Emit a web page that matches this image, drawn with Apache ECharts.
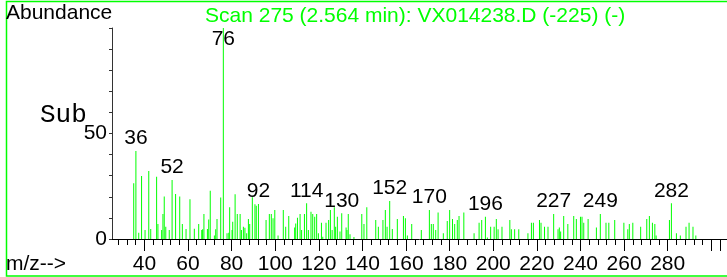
<!DOCTYPE html>
<html>
<head>
<meta charset="utf-8">
<script src="https://cdn.jsdelivr.net/npm/echarts@6/dist/echarts.min.js"></script>
<style>
  html, body { margin: 0; padding: 0; background: #fff; }
  #chart { width: 727px; height: 277px; }
</style>
</head>
<body>
<div id="chart"></div>
<script>
// m/z of each line
var mz = [
  35.1, 36.1, 37.4, 38.7, 40.3, 42.0, 42.9, 45.6, 46.2, 47.9, 48.5, 49.1, 49.8, 51.4, 52.7, 54.3, 56.2, 57.4, 59.1, 60.9, 62.9,
  64.9, 66.3, 66.7, 67.3, 68.9, 69.5, 70.2, 72.1, 72.7, 73.3, 75.0, 76.2, 77.9, 78.7, 79.1, 80.2, 80.5, 81.6, 82.6, 83.9,
  84.5, 85.4, 86.1, 86.9, 87.7, 88.3, 89.5, 90.7, 91.3, 92.3, 95.8, 97.3, 98.2, 99.0, 99.8, 101.3,
  103.7, 104.8, 106.2, 108.9, 109.4, 110.2, 111.4, 112.1, 113.4, 114.4, 115.2, 116.4, 117.2, 118.1, 119.0, 119.8, 121.2, 121.8,
  123.3, 124.5, 125.3, 126.1, 127.1, 127.7, 128.5, 129.7, 130.5, 132.5, 132.9, 133.5, 134.3, 136.1, 139.7, 140.7,
  142.0, 146.1, 147.3, 149.4, 150.5, 151.3, 152.5, 153.7, 156.0, 158.8, 159.7, 160.6, 162.6, 167.0, 170.7, 171.6, 172.5,
  173.6, 174.7, 177.1, 178.9, 180.0,
  181.3, 182.3, 183.5, 184.3, 186.5, 191.2, 193.5, 194.7, 196.4, 197.3, 198.8, 200.4, 201.4, 202.2, 204.0, 207.6, 208.3,
  209.8, 211.7, 215.9, 217.5, 218.4,
  221.2, 221.9, 223.5, 225.1, 227.7, 229.7, 230.3, 230.9, 232.3, 234.2, 236.9, 238.1, 240.0, 240.7, 241.5, 243.5, 247.3,
  249.1, 251.7, 253.0, 255.7,
  259.9, 261.7, 262.4, 264.0, 267.6, 270.4, 271.6, 273.0, 274.1, 274.7, 280.8, 281.7, 284.0, 285.8, 288.4, 289.8, 291.6, 292.9
];
var abundance = [
  26.4, 41.7, 3.0, 29.9, 4.3, 32.2, 4.7, 29.5, 7.1, 4.3, 11.8, 20.1, 5.8, 4.3, 28.0, 21.3, 20.1, 7.1, 4.7, 18.8, 4.9,
  7.1, 4.3, 4.6, 11.8, 4.7, 9.3, 22.9, 1.6, 4.6, 9.5, 19.7, 100, 2.7, 3.0, 15.0, 4.3, 8.2, 21.2, 11.8, 11.8,
  4.3, 5.8, 5.3, 2.7, 9.5, 7.1, 19.8, 16.5, 15.8, 16.6, 9.0, 11.8, 11.8, 9.8, 13.7, 1.6,
  13.7, 5.8, 10.9, 5.5, 7.4, 10.1, 11.8, 4.3, 11.8, 16.9, 4.3, 12.9, 11.8, 10.6, 11.8, 2.7, 7.7, 1.1,
  7.7, 9.0, 13.7, 4.3, 15.0, 5.8, 10.6, 3.5, 12.2, 5.5, 4.3, 11.8, 2.2, 0.9, 11.8, 7.1,
  15.0, 9.0, 5.8, 9.0, 13.7, 5.8, 18.0, 4.7, 9.5, 10.9, 9.8, 1.6, 7.1, 4.3, 13.7, 7.1, 7.1,
  4.3, 12.6, 2.7, 8.5, 13.7,
  9.5, 7.1, 9.0, 10.9, 12.6, 2.7, 7.7, 9.0, 10.6, 0.7, 5.8, 5.8, 9.5, 4.6, 5.8, 9.0, 4.6,
  4.6, 4.6, 2.7, 7.7, 7.7,
  9.0, 7.7, 5.8, 5.8, 11.8, 4.6, 5.5, 3.5, 10.9, 7.1, 10.9, 9.5, 10.6, 10.6, 7.7, 9.5, 5.5,
  11.8, 7.7, 7.7, 9.0,
  7.7, 4.6, 7.1, 7.7, 5.8, 9.5, 10.9, 7.7, 7.1, 1.6, 9.0, 16.9, 2.7, 1.7, 5.8, 7.7, 5.8, 1.6
];

// labelled peaks
var labelMz = [36.1, 52.7, 76.2, 92.3, 114.4, 130.5, 152.5, 170.7, 196.4, 227.7, 249.1, 281.7];
var labelText = ['36', '52', '76', '92', '114', '130', '152', '170', '196', '227', '249', '282'];

// axis ticks
var xLabels = [40, 60, 80, 100, 120, 140, 160, 180, 200, 220, 240, 260, 280];
var xMajorTicks = [40, 60, 80, 100, 120, 140, 160, 180, 200, 220, 240, 260, 280, 300, 304];
var yLabels = [0, 50];

var xMin = 25.14, xMax = 307.2;
var minorTicks = [];
for (var t = 28; t <= 304; t += 4) minorTicks.push(t);

var green = '#00ff00';
var font = 'Liberation Sans, Arial, sans-serif';

var seriesData = mz.map(function (m, i) {
  var item = { value: [m, abundance[i]] };
  var k = labelMz.indexOf(m);
  if (k >= 0) {
    item.label = { show: true, formatter: labelText[k] };
    if (abundance[i] >= 100) {
      item.label.position = 'insideTop';
      item.label.distance = 1;
    }
  }
  return item;
});

var dom = document.getElementById('chart');
var myChart = echarts.init(dom, null, { renderer: 'canvas' });

var option = {
  animation: false,
  backgroundColor: '#fff',
  grid: { left: 112, right: 0, top: 28, bottom: 38 },
  xAxis: [
    {
      type: 'value', min: xMin, max: xMax,
      axisLine: { show: true, lineStyle: { color: '#000', width: 1 } },
      axisTick: { show: true, customValues: minorTicks, length: 6, lineStyle: { color: '#000' } },
      axisLabel: { show: false },
      splitLine: { show: false }
    },
    {
      type: 'value', min: xMin, max: xMax, position: 'bottom',
      axisLine: { show: false },
      axisTick: { show: true, customValues: xMajorTicks, length: 12, lineStyle: { color: '#000' } },
      axisLabel: { show: true, customValues: xLabels, margin: 15, fontSize: 21, color: '#000', fontFamily: font },
      splitLine: { show: false }
    }
  ],
  yAxis: {
    type: 'value', min: 0, max: 100, interval: 10,
    axisLine: { show: true, lineStyle: { color: '#333', width: 1 } },
    axisTick: { show: true, length: 3, lineStyle: { color: '#333' } },
    axisLabel: { customValues: yLabels, margin: 5, fontSize: 21, color: '#000', fontFamily: font },
    splitLine: { show: false }
  },
  graphic: [
    { type: 'rect', shape: { x: 6.5, y: 1.5, width: 740, height: 274.5 },
      style: { fill: 'none', stroke: green, lineWidth: 1.5 }, silent: true },
    { type: 'text', x: 6, y: 3, style: { text: 'Abundance', font: '21px ' + font, fill: '#000', verticalAlign: 'top' } },
    { type: 'text', x: 205, y: 5.5, style: { text: 'Scan 275 (2.564 min): VX014238.D (-225) (-)', font: '21px ' + font, fill: green, verticalAlign: 'top' } },
    { type: 'text', x: 40, y: 102, style: { text: 'Sub', font: '26px Liberation Mono, monospace', fill: '#000', verticalAlign: 'top' } },
    { type: 'text', x: 6, y: 254, style: { text: 'm/z-->', font: '21px ' + font, fill: '#000', verticalAlign: 'top' } }
  ],
  series: [
    {
      type: 'bar',
      xAxisIndex: 0,
      barWidth: 1,
      itemStyle: { color: green },
      label: { show: false, position: 'top', distance: 2, fontSize: 21, color: '#000', fontFamily: font },
      data: seriesData
    }
  ]
};

if (option && typeof option === 'object') {
  myChart.setOption(option);
}

window.addEventListener('resize', myChart.resize);
</script>
</body>
</html>
